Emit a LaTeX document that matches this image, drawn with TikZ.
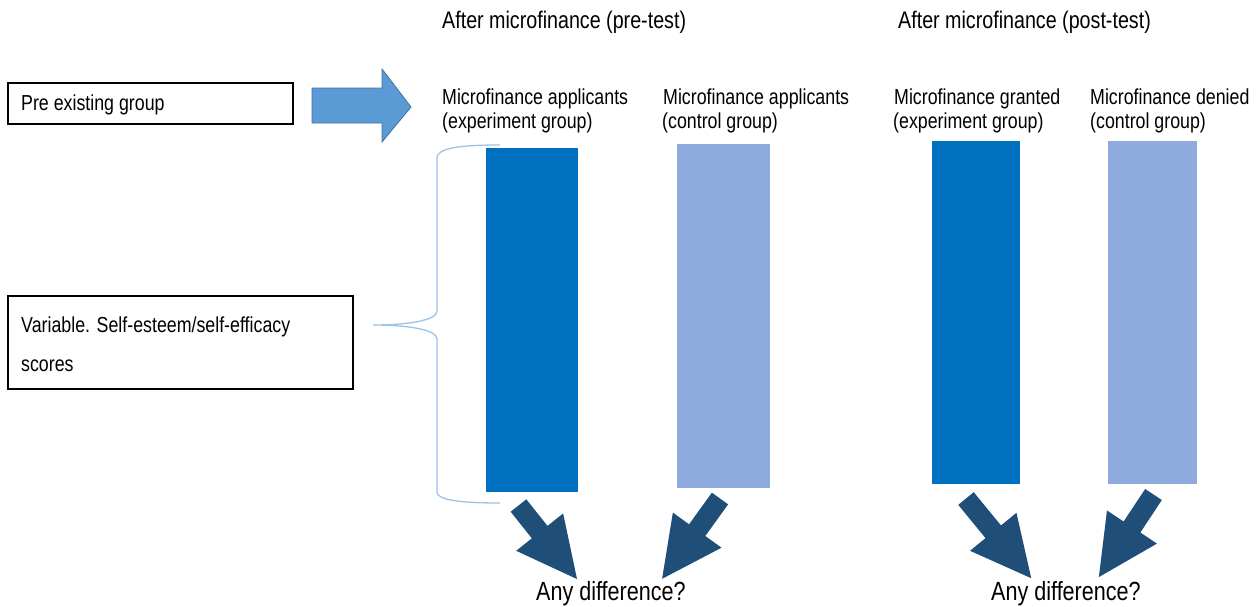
\documentclass[tikz,border=0pt]{standalone}
\usepackage{fontspec}
\setmainfont{Liberation Sans}[FakeStretch=0.82]
\definecolor{darkbar}{HTML}{0070C0}
\definecolor{lightbar}{HTML}{8FAADC}
\definecolor{bigarrowfill}{HTML}{5B9BD5}
\definecolor{bigarrowline}{HTML}{41719C}
\definecolor{downarrow}{HTML}{1F4E79}
\definecolor{bracecol}{HTML}{9DC3E6}
\tikzset{
  hdr/.style={anchor=base west,inner sep=0pt,font=\fontsize{24}{28}\selectfont},
  lbl/.style={anchor=base west,inner sep=0pt,font=\fontsize{21.7}{26}\selectfont},
  boxtxt/.style={anchor=base west,inner sep=0pt,font=\fontsize{21.7}{26}\selectfont},
  diff/.style={anchor=base west,inner sep=0pt,font=\fontsize{26.3}{31}\selectfont},
  framebox/.style={draw=black,line width=1.4pt},
  pics/dnarrow/.style={code={
    \fill[downarrow] (0,-10) -- (#1-60,-10) -- (#1-60,-30) -- (#1,0) -- (#1-60,30) -- (#1-60,10) -- (0,10) -- cycle;}}
}
\begin{document}
\begin{tikzpicture}[x=1pt,y=-1pt]
\useasboundingbox (0,0) rectangle (1258,606);
% headers
\node[hdr] (h1) at (442,28) {After microfinance (pre-test)};
\node[hdr] (h2) at (898,28) {After microfinance (post-test)};
% left boxes
\draw[framebox] (8,83) rectangle (293,124);
\node[boxtxt] (pre) at (21,110) {Pre existing group};
\draw[framebox] (8,296) rectangle (353,389);
\node[boxtxt] (var1) at (21,332) {Variable. Self-esteem/self-efficacy};
\node[boxtxt] (var2) at (21,371) {scores};
% big arrow
\filldraw[fill=bigarrowfill,draw=bigarrowline,line width=0.8pt]
  (312,88) -- (382,88) -- (382,69) -- (411,107) -- (382,142) -- (382,123) -- (312,123) -- cycle;
% labels
\node[lbl] (l1a) at (442,104) {Microfinance applicants};
\node[lbl] (l1b) at (442,128) {(experiment group)};
\node[lbl] (l2a) at (663,104) {Microfinance applicants};
\node[lbl] (l2b) at (662,128) {(control group)};
\node[lbl] (l3a) at (894,104) {Microfinance granted};
\node[lbl] (l3b) at (893,128) {(experiment group)};
\node[lbl] (l4a) at (1090,104) {Microfinance denied};
\node[lbl] (l4b) at (1090,128) {(control group)};
% bars
\fill[darkbar] (486,148) rectangle (578,492);
\fill[lightbar] (677,144) rectangle (770,488);
\fill[darkbar] (932,141) rectangle (1020,484);
\fill[lightbar] (1108,141) rectangle (1197,484);
% brace
\draw[bracecol,line width=1.3pt]
  (500,145) .. controls (460,145) and (437,148) .. (437,158) -- (437,311)
  .. controls (437,320) and (410,325) .. (373,325)
  .. controls (410,325) and (437,330) .. (437,339) -- (437,492)
  .. controls (437,500) and (460,503) .. (500,503);
% down arrows
\pic[rotate=-51.5] (a1) at (518.5,505.5) {dnarrow=94};
\pic[rotate=-125.8] (a2) at (720,498.5) {dnarrow=99};
\pic[rotate=-50.7] (a3) at (966,498.5) {dnarrow=103};
\pic[rotate=-123.5] (a4) at (1153.5,494.5) {dnarrow=99};
% any difference
\node[diff] (d1) at (536,600) {Any difference?};
\node[diff] (d2) at (991,600) {Any difference?};
\end{tikzpicture}
\end{document}
